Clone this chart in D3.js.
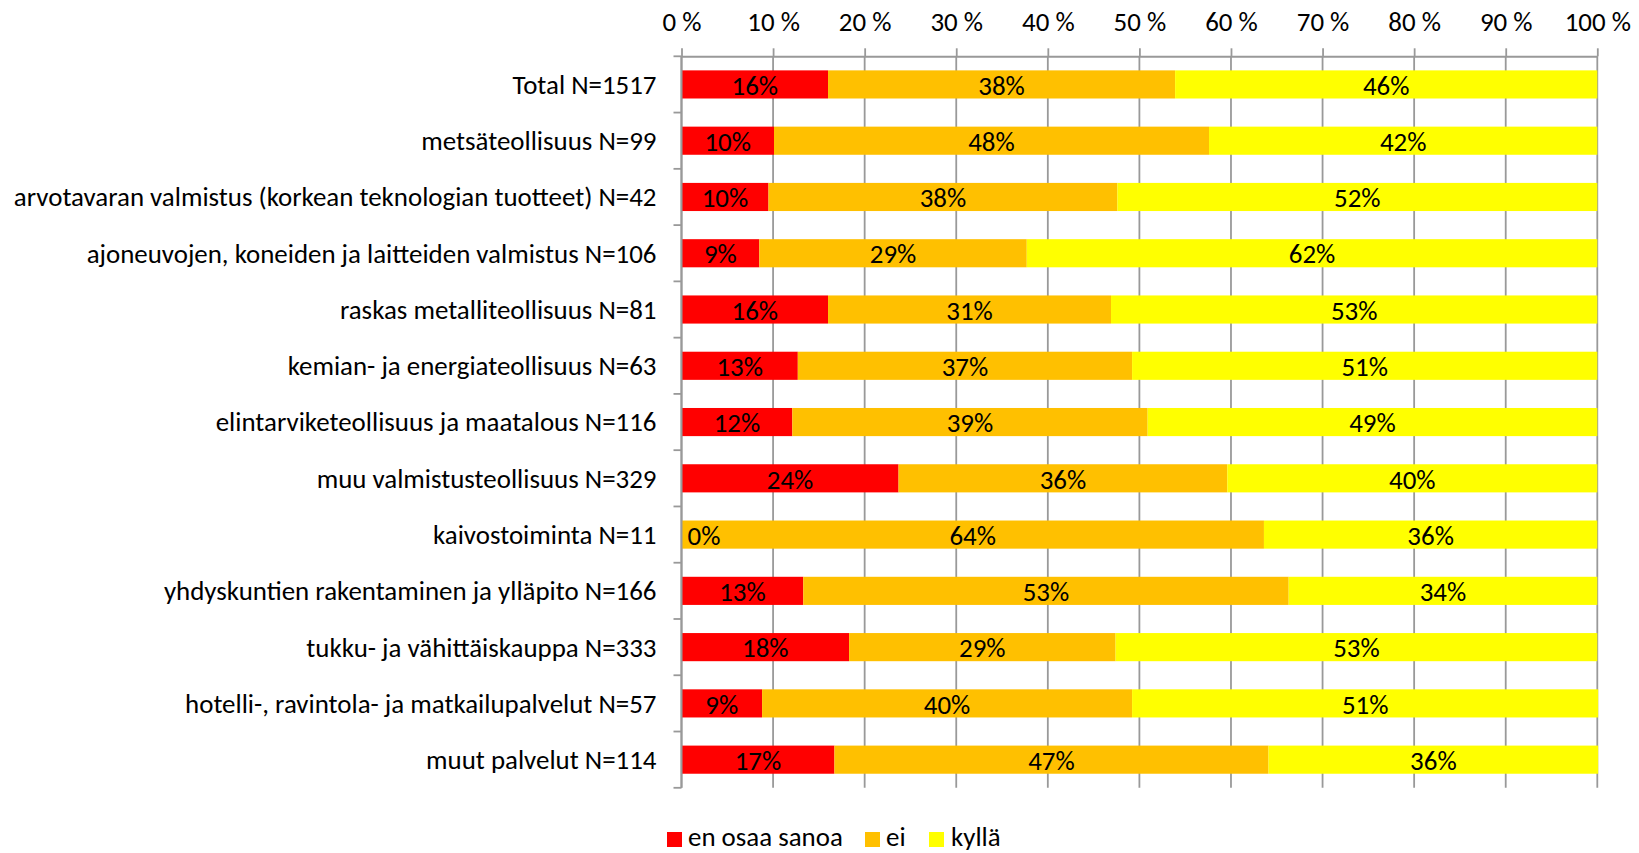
<!DOCTYPE html>
<html>
<head>
<meta charset="utf-8">
<script src="https://cdn.jsdelivr.net/npm/d3@7"></script>
<style>
  html, body { margin: 0; padding: 0; background: #fff; }
  svg { display: block; }
  text { font-family: Carlito, Calibri, Lato, "Open Sans", sans-serif; fill: #000; }
</style>
</head>
<body>
<svg id="chart" width="1639" height="853"></svg>
<script>
// Survey answers by industry, shares in percent
const categories = [
  "Total N=1517",
  "metsäteollisuus N=99",
  "arvotavaran valmistus (korkean teknologian tuotteet) N=42",
  "ajoneuvojen, koneiden ja laitteiden valmistus N=106",
  "raskas metalliteollisuus N=81",
  "kemian- ja energiateollisuus N=63",
  "elintarviketeollisuus ja maatalous N=116",
  "muu valmistusteollisuus N=329",
  "kaivostoiminta N=11",
  "yhdyskuntien rakentaminen ja ylläpito N=166",
  "tukku- ja vähittäiskauppa N=333",
  "hotelli-, ravintola- ja matkailupalvelut N=57",
  "muut palvelut N=114"
];
const seriesNames = ["en osaa sanoa", "ei", "kyllä"];
const enOsaaSanoa = [16.0, 10.1,  9.5,  8.5, 16.0, 12.7, 12.1, 23.7,  0.0, 13.3, 18.3,  8.8, 16.7];
const ei          = [37.9, 47.5, 38.1, 29.2, 30.9, 36.5, 38.8, 35.9, 63.6, 53.0, 29.1, 40.4, 47.4];
const kylla       = [46.1, 42.4, 52.4, 62.3, 53.1, 50.8, 49.1, 40.4, 36.4, 33.7, 52.6, 50.9, 36.0];
const tickValues = [0, 10, 20, 30, 40, 50, 60, 70, 80, 90, 100];
const colors = ["#FF0000", "#FFC000", "#FFFF00"];

const svg = d3.select("#chart");
const fontSize = 24;

const plot = { left: 681.5, right: 1597.3, top: 56.3, bottom: 787.8 };

const x = d3.scaleLinear().domain([0, 100]).range([plot.left, plot.right]);
const y = d3.scaleBand().domain(categories).range([plot.top, plot.bottom])
  .paddingInner(0.5).paddingOuter(0.25);

const rows = categories.map((c, i) => ({ cat: c, values: [enOsaaSanoa[i], ei[i], kylla[i]] }));
const stacked = d3.stack().keys([0, 1, 2]).value((d, k) => d.values[k])(rows);

const gridColor = "#999999";

// vertical gridlines
svg.append("g").selectAll("line").data(tickValues).join("line")
  .attr("x1", d => x(d)).attr("x2", d => x(d))
  .attr("y1", plot.top).attr("y2", plot.bottom)
  .attr("stroke", gridColor).attr("stroke-width", 1.8);

// bars
const layers = svg.append("g").selectAll("g").data(stacked).join("g")
  .attr("fill", (d, i) => colors[i]);
layers.selectAll("rect").data(d => d).join("rect")
  .attr("x", d => x(d[0]))
  .attr("width", d => x(d[1]) - x(d[0]))
  .attr("y", d => y(d.data.cat))
  .attr("height", y.bandwidth());

// value labels inside segments
const fmt = v => Math.round(v) + "%";
const labels = svg.append("g").attr("font-size", fontSize);
stacked.forEach((layer) => {
  layer.forEach(d => {
    const v = d[1] - d[0];
    const w = x(d[1]) - x(d[0]);
    const t = labels.append("text")
      .attr("y", y(d.data.cat) + y.bandwidth() / 2)
      .attr("dy", "0.38em")
      .text(fmt(v));
    if (w < 10) {
      t.attr("x", x(d[0]) + 6).attr("text-anchor", "start");
    } else {
      t.attr("x", (x(d[0]) + x(d[1])) / 2).attr("text-anchor", "middle");
    }
  });
});

// top value axis
const xAxis = svg.append("g")
  .attr("transform", `translate(0,${plot.top})`)
  .call(d3.axisTop(x).tickValues(tickValues).tickFormat(d => d + " %").tickSize(8).tickSizeOuter(0));
xAxis.select(".domain").attr("stroke", gridColor).attr("stroke-width", 2);
xAxis.selectAll(".tick line").attr("stroke", gridColor).attr("stroke-width", 1.8);
xAxis.selectAll(".tick text")
  .attr("font-size", fontSize).attr("font-family", null)
  .attr("y", 0).attr("dy", null)
  .attr("transform", `translate(0,${21 - plot.top})`)
  .attr("dominant-baseline", "central");

// left category axis
const yAxis = svg.append("g");
yAxis.append("line")
  .attr("x1", plot.left).attr("x2", plot.left)
  .attr("y1", plot.top).attr("y2", plot.bottom)
  .attr("stroke", gridColor).attr("stroke-width", 2);
const bounds = d3.range(categories.length + 1).map(i => plot.top + i * y.step());
yAxis.selectAll("line.b").data(bounds).join("line").attr("class", "b")
  .attr("x1", plot.left - 8).attr("x2", plot.left)
  .attr("y1", d => d).attr("y2", d => d)
  .attr("stroke", gridColor).attr("stroke-width", 1.8);

const catLabels = yAxis.selectAll("text").data(categories).join("text")
  .attr("x", 656.5)
  .attr("y", d => y(d) + y.bandwidth() / 2)
  .attr("dy", "0.35em")
  .attr("text-anchor", "end")
  .attr("font-size", fontSize)
  .text(d => d);

// legend
const legendItems = [
  { name: seriesNames[0], color: colors[0], sx: 667, tx: 688 },
  { name: seriesNames[1], color: colors[1], sx: 865, tx: 886 },
  { name: seriesNames[2], color: colors[2], sx: 929, tx: 951 }
];
const legend = svg.append("g");
legend.selectAll("rect").data(legendItems).join("rect")
  .attr("x", d => d.sx).attr("y", 832).attr("width", 15).attr("height", 15)
  .attr("fill", d => d.color);
legend.selectAll("text").data(legendItems).join("text")
  .attr("x", d => d.tx).attr("y", 846)
  .attr("font-size", fontSize)
  .text(d => d.name);

// fit the text size so the longest category name spans its slot
const longest = d3.max(catLabels.nodes(), n => n.getComputedTextLength());
const target = 643;
if (longest > 0) {
  const s = fontSize * target / longest;
  svg.selectAll("text").attr("font-size", s);
}
</script>
</body>
</html>
